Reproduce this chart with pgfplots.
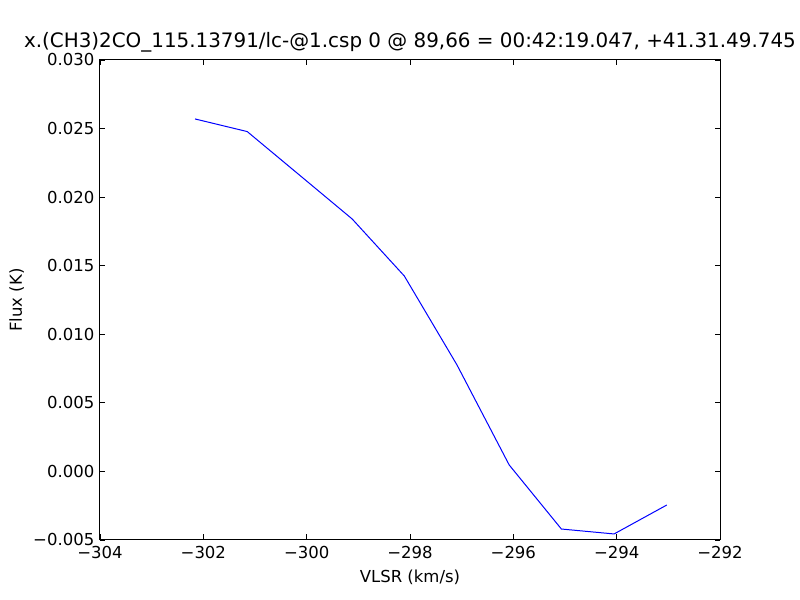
\documentclass[border=0pt]{standalone}
\usepackage{fontspec}
\setmainfont{DejaVu Sans}
\usepackage{pgfplots}
\pgfplotsset{compat=1.18}
\begin{document}
\fontsize{16.5bp}{19bp}\selectfont
\begin{tikzpicture}
\begin{axis}[
  width=620bp, height=480bp, scale only axis,
  xmin=-304, xmax=-292, ymin=-0.005, ymax=0.030,
  xtick={-304,-302,-300,-298,-296,-294,-292},
  xticklabels={−304,−302,−300,−298,−296,−294,−292},
  ytick={-0.005,0,0.005,0.01,0.015,0.02,0.025,0.03},
  yticklabels={−0.005,0.000,0.005,0.010,0.015,0.020,0.025,0.030},
  scaled y ticks=false,
  tick align=inside, tick pos=both, major tick length=5.5bp,
  minor tick num=0,
  tick style={black, line width=0.7bp},
  axis line style={black, line width=1bp},
  tick label style={font=\fontsize{16.5bp}{19bp}\selectfont},
  label style={font=\fontsize{16.5bp}{19bp}\selectfont},
  title style={font=\fontsize{19.9bp}{24bp}\selectfont, at={(0.5,1)}, anchor=base, yshift=7bp, inner sep=0pt},
  title={x.(CH3)2CO\_115.13791/lc-@1.csp 0 @ 89,66 = 00:42:19.047, +41.31.49.745},
  xlabel={VLSR (km/s)},
  ylabel={Flux (K)},
  ylabel style={yshift=-2bp},
  xticklabel style={yshift=-1bp},
]
\addplot[blue, line width=1bp, mark=none] coordinates {
  (-302.16, 0.02570)
  (-301.15, 0.02478)
  (-299.12, 0.01841)
  (-298.11, 0.01425)
  (-297.09, 0.00776)
  (-296.08, 0.00047)
  (-295.07, -0.00420)
  (-294.05, -0.00456)
  (-293.03, -0.00245)
};
\end{axis}
\path ([shift={(-100bp,-60bp)}]current axis.south west) rectangle ([shift={(80bp,60bp)}]current axis.north east);
\end{tikzpicture}
\end{document}
